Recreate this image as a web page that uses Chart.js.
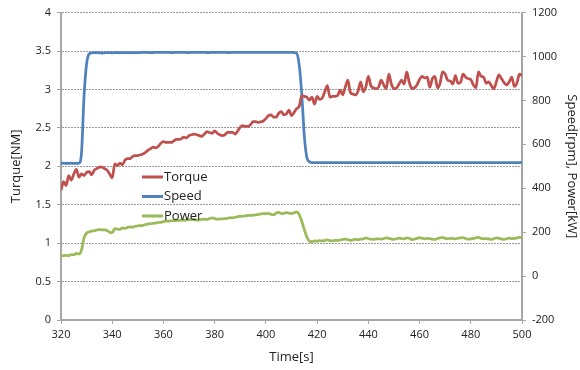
<!DOCTYPE html>
<html>
<head>
<meta charset="utf-8">
<script src="https://cdn.jsdelivr.net/npm/chart.js@4"></script>
<style>
  body { margin: 0; background: #fff; }
  #wrap { width: 580px; height: 370px; }
</style>
</head>
<body>
<div id="wrap"><canvas id="motorChart" width="580" height="370"></canvas></div>
<script>
// Thời gian (s), 1 mẫu mỗi giây
const times = [
  320,321,322,323,324,325,326,327,328,329,
  330,331,332,333,334,335,336,337,338,339,
  340,341,342,343,344,345,346,347,348,349,
  350,351,352,353,354,355,356,357,358,359,
  360,361,362,363,364,365,366,367,368,369,
  370,371,372,373,374,375,376,377,378,379,
  380,381,382,383,384,385,386,387,388,389,
  390,391,392,393,394,395,396,397,398,399,
  400,401,402,403,404,405,406,407,408,409,
  410,411,412,413,414,415,416,417,418,419,
  420,421,422,423,424,425,426,427,428,429,
  430,431,432,433,434,435,436,437,438,439,
  440,441,442,443,444,445,446,447,448,449,
  450,451,452,453,454,455,456,457,458,459,
  460,461,462,463,464,465,466,467,468,469,
  470,471,472,473,474,475,476,477,478,479,
  480,481,482,483,484,485,486,487,488,489,
  490,491,492,493,494,495,496,497,498,499,
  500
];

// Torque [NM] - trục trái
const torque = [
  1.69,1.80,1.75,1.88,1.82,1.90,1.96,1.86,1.90,1.88,
  1.92,1.93,1.89,1.95,1.97,1.99,1.99,1.97,1.95,1.90,
  1.85,2.03,2.01,2.04,2.02,2.08,2.10,2.10,2.13,2.14,
  2.14,2.15,2.16,2.18,2.21,2.23,2.25,2.24,2.26,2.30,
  2.32,2.31,2.31,2.31,2.33,2.35,2.35,2.36,2.38,2.37,
  2.40,2.41,2.42,2.41,2.40,2.39,2.42,2.45,2.44,2.43,
  2.46,2.43,2.41,2.40,2.41,2.44,2.44,2.44,2.42,2.46,
  2.51,2.53,2.52,2.52,2.54,2.58,2.58,2.57,2.58,2.59,
  2.62,2.66,2.67,2.64,2.64,2.69,2.71,2.67,2.68,2.73,
  2.66,2.70,2.75,2.78,2.92,2.91,2.90,2.86,2.90,2.81,
  2.91,2.87,2.89,2.97,3.05,2.90,2.91,2.91,2.92,2.99,
  2.93,3.03,3.12,2.96,2.94,2.93,2.98,3.10,2.97,3.03,
  3.17,3.05,3.02,3.01,3.03,3.12,3.06,3.01,3.20,3.07,
  3.01,3.02,3.07,3.12,3.07,3.23,3.09,3.01,3.02,3.06,
  3.13,3.17,3.15,3.16,3.03,3.14,3.17,3.02,3.08,3.23,
  3.20,3.12,3.11,3.07,3.18,3.08,3.09,3.20,3.16,3.14,
  3.13,3.06,3.02,3.23,3.17,3.16,3.08,3.10,3.05,3.01,
  3.10,3.19,3.14,3.09,3.06,3.10,3.16,3.04,3.08,3.20,
  3.18
];

// Speed [rpm] - trục phải
const speed = [
  513,514,513,513,514,513,513,514,560,820,
  967,1012,1017,1018,1018,1017,1016,1017,1018,1018,
  1017,1018,1018,1017,1018,1018,1018,1017,1018,1018,
  1018,1018,1019,1019,1018,1018,1018,1019,1019,1019,
  1019,1019,1019,1018,1018,1019,1019,1019,1019,1018,
  1018,1019,1019,1019,1019,1019,1019,1018,1018,1019,
  1019,1019,1019,1019,1019,1018,1018,1019,1019,1019,
  1019,1019,1019,1019,1019,1019,1019,1019,1019,1019,
  1019,1019,1019,1019,1019,1019,1019,1019,1019,1019,
  1019,1018,1015,962,830,640,540,521,517,517,
  517,517,517,517,517,517,517,517,517,517,
  517,517,517,517,517,517,517,517,517,517,
  517,517,517,517,517,517,517,517,517,517,
  517,517,517,517,517,517,517,517,517,517,
  517,517,517,517,517,517,517,517,517,517,
  517,517,517,517,517,517,517,517,517,517,
  517,517,517,517,517,517,517,517,517,517,
  517,517,517,517,517,517,517,517,517,517,
  518
];

// Power [kW] - trục phải
const power = [
  91,93,94,93,98,97,103,100,118,175,
  196,201,205,207,210,212,211,211,208,200,
  198,216,214,213,219,217,222,224,223,227,
  229,230,231,235,237,239,240,242,244,245,
  248,251,250,252,253,252,254,255,254,256,
  257,258,257,255,256,258,259,258,262,265,
  262,259,260,261,262,263,266,265,268,271,
  272,273,274,276,277,277,279,280,283,285,
  284,286,281,279,287,290,285,286,289,287,
  285,288,292,280,250,212,178,159,157,160,
  159,162,160,163,165,161,160,163,162,164,
  167,168,166,163,165,167,166,168,169,174,
  170,168,167,169,170,168,171,174,172,169,
  167,170,173,171,169,174,172,166,168,172,
  175,172,170,172,171,168,167,171,174,176,
  172,170,172,171,170,172,174,175,171,168,
  169,172,174,176,172,170,171,169,167,170,
  174,172,169,167,170,173,171,172,174,176,
  174
];

const FONT = '"Open Sans", "Liberation Sans", sans-serif';
const AXIS_GREY = '#a6a6a6';

function toPoints(values) {
  return values.map((v, i) => ({ x: times[i], y: v }));
}

// Chú thích nằm trong vùng biểu đồ (giống Excel)
const insideLegend = {
  id: 'insideLegend',
  afterDraw(chart) {
    const ctx = chart.ctx;
    ctx.save();
    ctx.font = '13px ' + FONT;
    ctx.textBaseline = 'middle';
    chart.data.datasets.forEach((ds, i) => {
      const y = 177 + i * 19.5;
      ctx.strokeStyle = ds.borderColor;
      ctx.lineWidth = 3;
      ctx.beginPath();
      ctx.moveTo(142, y);
      ctx.lineTo(163, y);
      ctx.stroke();
      ctx.fillStyle = '#222';
      ctx.fillText(ds.label, 164, y);
    });
    ctx.restore();
  }
};

const ctx = document.getElementById('motorChart').getContext('2d');
const motorChart = new Chart(ctx, {
  type: 'line',
  data: {
    datasets: [{
      label: 'Torque',
      data: toPoints(torque),
      borderColor: '#c0504d',
      yAxisID: 'y'
    }, {
      label: 'Speed',
      data: toPoints(speed),
      borderColor: '#4f81bd',
      yAxisID: 'y1'
    }, {
      label: 'Power',
      data: toPoints(power),
      borderColor: '#9bbb59',
      yAxisID: 'y1'
    }]
  },
  options: {
    responsive: false,
    animation: false,
    layout: { padding: { top: 12, left: 0, right: 0, bottom: 0 } },
    elements: {
      point: { radius: 0 },
      line: { borderWidth: 2.75, cubicInterpolationMode: 'monotone', tension: 0.4 }
    },
    plugins: {
      legend: { display: false },
      tooltip: { enabled: false }
    },
    scales: {
      x: {
        type: 'linear',
        min: 320,
        max: 500,
        afterFit: s => { s.height = 50; },
        ticks: {
          stepSize: 20,
          padding: 4,
          color: '#222',
          font: { family: FONT, size: 11 },
          callback: v => String(v)
        },
        grid: { drawOnChartArea: false, drawTicks: true, tickLength: 4, color: AXIS_GREY },
        border: { color: AXIS_GREY, width: 2 },
        title: {
          display: true,
          text: 'Time[s]',
          color: '#222',
          font: { family: FONT, size: 13 },
          padding: { top: 0, bottom: 5 }
        }
      },
      y: {
        position: 'left',
        min: 0,
        max: 4,
        afterFit: s => { s.width = 61; },
        ticks: {
          stepSize: 0.5,
          padding: 6,
          color: '#222',
          font: { family: FONT, size: 11 },
          callback: v => String(v)
        },
        grid: { color: '#9a9a9a', lineWidth: 1, tickLength: 4, tickColor: AXIS_GREY, tickBorderDash: [] },
        border: { color: AXIS_GREY, width: 2, dash: [2, 1] },
        title: {
          display: true,
          text: 'Turque[NM]',
          color: '#222',
          font: { family: FONT, size: 13 },
          padding: { top: 8, bottom: 0 }
        }
      },
      y1: {
        position: 'right',
        min: -200,
        max: 1200,
        afterFit: s => { s.width = 58; },
        ticks: {
          stepSize: 200,
          padding: 6,
          color: '#222',
          font: { family: FONT, size: 11 },
          callback: v => String(v)
        },
        grid: { drawOnChartArea: false, tickLength: 4, color: AXIS_GREY },
        border: { color: AXIS_GREY, width: 2 },
        title: {
          display: true,
          text: 'Speed[rpm], Power[kW]',
          color: '#222',
          font: { family: FONT, size: 13 },
          padding: { top: 0, bottom: 0 }
        }
      }
    }
  },
  plugins: [insideLegend]
});
</script>
</body>
</html>
